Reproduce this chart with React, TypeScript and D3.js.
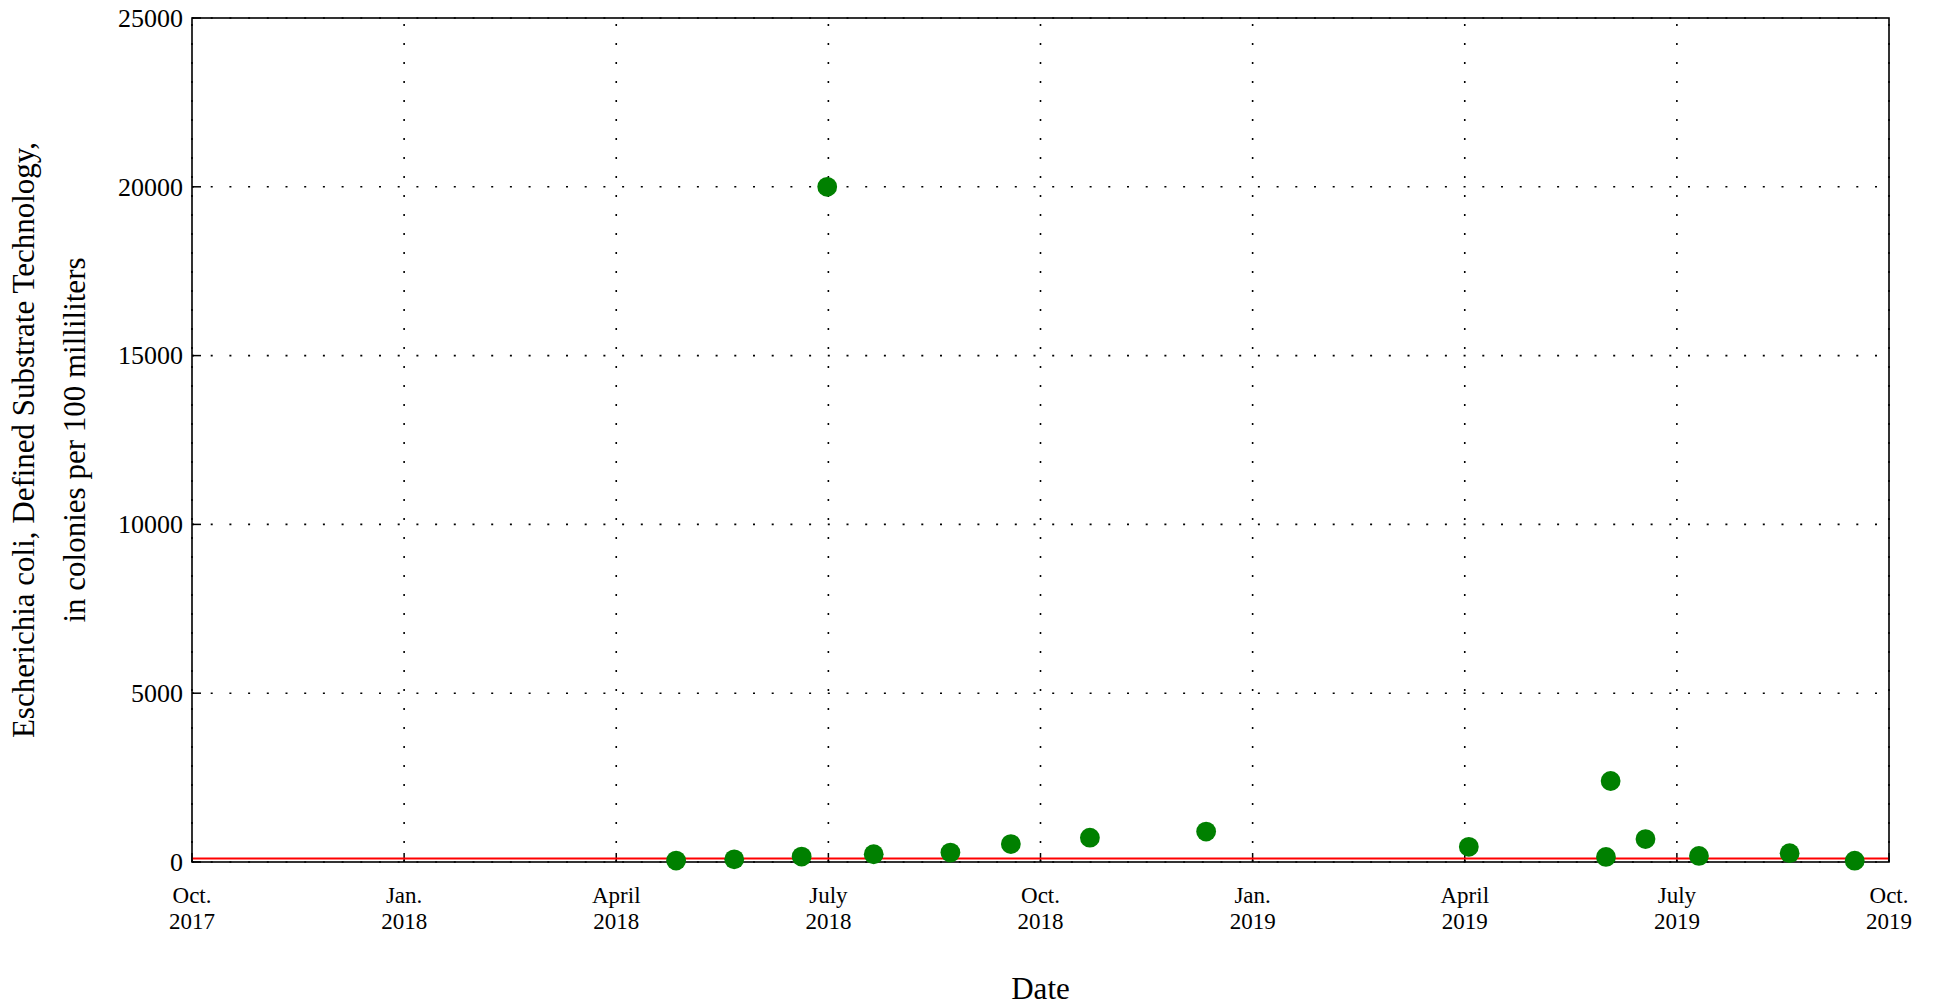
import React from "react";
import * as d3 from "d3";

// sample dates and E. coli counts (colonies per 100 mL)
const sampleDates = [
  "2018-04-28", "2018-05-23", "2018-06-21", "2018-07-02", "2018-07-22", "2018-08-24",
  "2018-09-19", "2018-10-23", "2018-12-12", "2019-04-04", "2019-06-02", "2019-06-04",
  "2019-06-19", "2019-07-12", "2019-08-20", "2019-09-17",
];
const ecoliCounts = [41, 80, 160, 20000, 230, 280, 530, 720, 900, 450, 150, 2400, 680, 180, 260, 38];

const criterion = 100;

const xTickValues = [2017.75, 2018, 2018.25, 2018.5, 2018.75, 2019, 2019.25, 2019.5, 2019.75];
const xTickMonths = ["Oct.", "Jan.", "April", "July", "Oct.", "Jan.", "April", "July", "Oct."];
const xTickYears = ["2017", "2018", "2018", "2018", "2018", "2019", "2019", "2019", "2019"];
const yTickValues = [0, 5000, 10000, 15000, 20000, 25000];

const W = 1934, H = 1006;
const left = 192, right = 1889, top = 18, bottom = 862;
const FONT = "'Liberation Serif', 'Times New Roman', serif";

// decimal year, like the original plot uses
function decYear(s: string) {
  const d = new Date(s + "T00:00:00Z");
  const y = d.getUTCFullYear();
  const start = Date.UTC(y, 0, 1);
  const len = (Date.UTC(y + 1, 0, 1) - start) / 86400000;
  const doy = (d.getTime() - start) / 86400000;
  return y + doy / len;
}

export default function App() {
  const x = d3.scaleLinear().domain([2017.75, 2019.75]).range([left, right]);
  const y = d3.scaleLinear().domain([0, 25000]).range([bottom, top]);

  const pts = sampleDates.map((d, i) => ({ t: decYear(d), v: ecoliCounts[i] }));

  return (
    <div style={{ position: "absolute", left: 0, top: 0 }}>
      <svg width={W} height={H} style={{ display: "block", background: "#fff" }} fontFamily={FONT}>
        {/* dotted grid */}
        <g stroke="#000" strokeWidth={1.6} fill="none">
          {yTickValues.map(v => (
            <line key={"gy" + v} x1={left} x2={right} y1={y(v)} y2={y(v)} strokeDasharray="2 16.7" />
          ))}
          {xTickValues.map(v => (
            <line key={"gx" + v} x1={x(v)} x2={x(v)} y1={bottom} y2={top} strokeDasharray="2 17" />
          ))}
        </g>

        {/* ticks */}
        <g stroke="#000" strokeWidth={1.5}>
          {xTickValues.map(v => (
            <line key={"tx" + v} x1={x(v)} x2={x(v)} y1={bottom} y2={bottom - 9} />
          ))}
          {yTickValues.map(v => (
            <line key={"ty" + v} x1={left} x2={left + 9} y1={y(v)} y2={y(v)} />
          ))}
        </g>

        {/* criterion line */}
        <line x1={left} x2={right} y1={Math.round(y(criterion)) - 0.5} y2={Math.round(y(criterion)) - 0.5}
          stroke="#ff0000" strokeWidth={1.8} />

        {/* frame */}
        <rect x={left} y={top} width={right - left} height={bottom - top} fill="none" stroke="#000" strokeWidth={1.6} />

        {/* samples */}
        <g fill="#008000">
          {pts.map((p, i) => (
            <circle key={i} cx={x(p.t)} cy={y(p.v)} r={9.9} />
          ))}
        </g>

        {/* y tick labels */}
        <g fontSize={26} textAnchor="end" fill="#000">
          {yTickValues.map(v => (
            <text key={"ly" + v} x={left - 9} y={y(v) + 8.8}>{v}</text>
          ))}
        </g>

        {/* x tick labels */}
        <g fontSize={23} textAnchor="middle" fill="#000">
          {xTickValues.map((v, i) => (
            <g key={"lx" + v}>
              <text x={x(v)} y={903}>{xTickMonths[i]}</text>
              <text x={x(v)} y={929}>{xTickYears[i]}</text>
            </g>
          ))}
        </g>

        {/* axis titles */}
        <text x={(left + right) / 2} y={999} fontSize={31} textAnchor="middle">Date</text>
        <g transform={`translate(0, ${(top + bottom) / 2}) rotate(-90)`} fontSize={31} textAnchor="middle">
          <text x={0} y={34}>Escherichia coli, Defined Substrate Technology,</text>
          <text x={0} y={85}>in colonies per 100 milliliters</text>
        </g>
      </svg>
    </div>
  );
}
